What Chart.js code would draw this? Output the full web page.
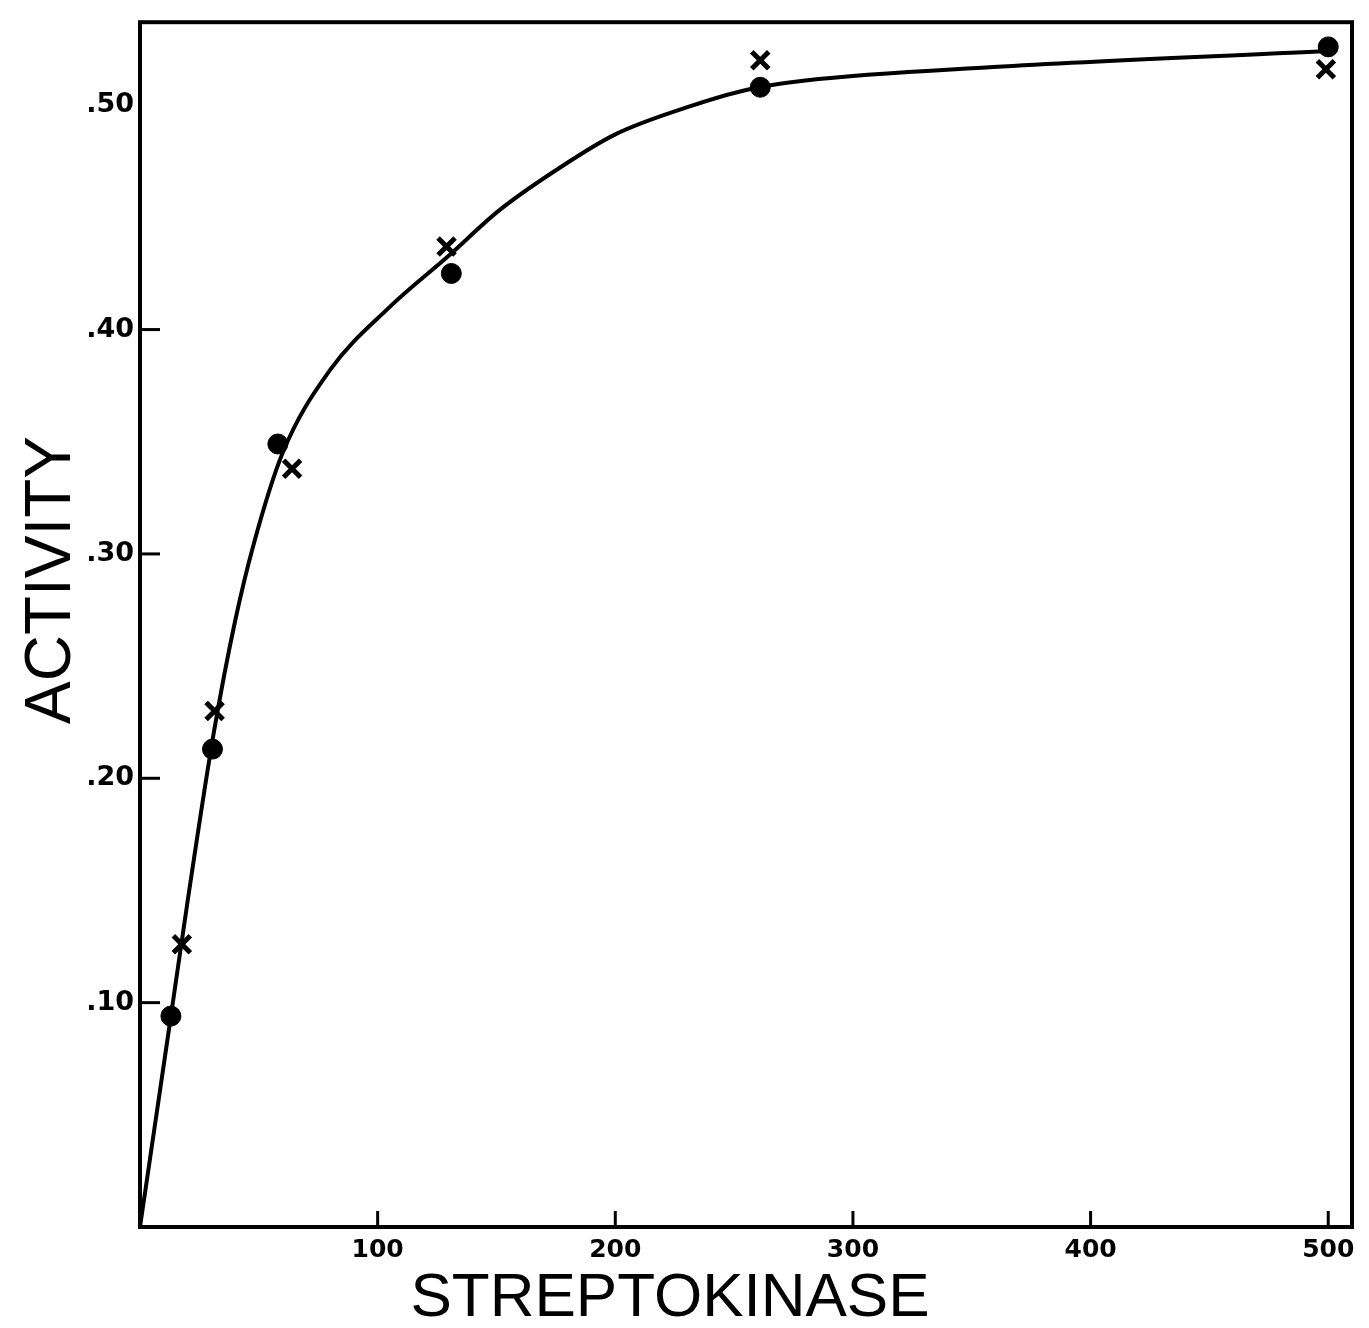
<!DOCTYPE html>
<html lang="en">

<head>
    <meta charset="UTF-8">
    <title>Activity vs Streptokinase</title>
    <script src="https://cdn.jsdelivr.net/npm/chart.js"></script>
    <style>
        html, body { margin: 0; padding: 0; background: #fff; }
        #wrap { width: 1369px; height: 1328px; }
    </style>
</head>

<body>
    <div id="wrap"><canvas id="grafica"></canvas></div>

    <script>
        // Datos
        var dotX = [13, 30.5, 58, 131, 261, 500];
        var dotY = [0.094, 0.213, 0.349, 0.425, 0.508, 0.526];
        var crossX = [17.6, 31.4, 64, 129, 261, 499];
        var crossY = [0.126, 0.230, 0.338, 0.437, 0.520, 0.516];
        var curveX = [0, 13, 20, 31, 40, 48, 60, 80, 105, 130, 151, 175, 200, 230, 256, 280, 359, 498];
        var curveY = [0, 0.094, 0.145, 0.22, 0.27, 0.305, 0.345, 0.382, 0.410, 0.433, 0.453, 0.471, 0.487, 0.499, 0.507, 0.511, 0.517, 0.524];
        var xTicks = [100, 200, 300, 400, 500];
        var xTickLabels = ['100', '200', '300', '400', '500'];
        var yTicks = [0.1, 0.2, 0.3, 0.4, 0.5];
        var yTickLabels = ['.10', '.20', '.30', '.40', '.50'];
        var xTitle = 'STREPTOKINASE';
        var yTitle = 'ACTIVITY';

        function pares(xs, ys) {
            return xs.map(function (x, i) { return { x: x, y: ys[i] }; });
        }

        // Caja, marcas interiores y titulos dibujados a mano
        var marco = {
            id: 'marco',
            afterDraw: function (chart) {
                var ctx = chart.ctx, a = chart.chartArea;
                var sx = chart.scales.x, sy = chart.scales.y;
                ctx.save();
                ctx.strokeStyle = '#000';
                ctx.lineWidth = 4;
                ctx.strokeRect(a.left, a.top, a.right - a.left, a.bottom - a.top);
                ctx.lineWidth = 3;
                yTicks.forEach(function (v) {
                    if (v >= 0.5) return;
                    var py = sy.getPixelForValue(v);
                    ctx.beginPath(); ctx.moveTo(a.left, py); ctx.lineTo(a.left + 20, py); ctx.stroke();
                });
                xTicks.forEach(function (v) {
                    var px = sx.getPixelForValue(v);
                    ctx.beginPath(); ctx.moveTo(px, a.bottom); ctx.lineTo(px, a.bottom - 16); ctx.stroke();
                });
                ctx.fillStyle = '#000';
                ctx.font = '62px "Liberation Sans", Arial, sans-serif';
                ctx.textAlign = 'center';
                ctx.textBaseline = 'alphabetic';
                ctx.fillText(xTitle, 670, 1316);
                ctx.translate(70, 580);
                ctx.rotate(-Math.PI / 2);
                ctx.font = '64px "Liberation Sans", Arial, sans-serif';
                ctx.fillText(yTitle, 0, 0);
                ctx.restore();
            }
        };

        var ctx = document.getElementById('grafica').getContext('2d');
        var chart = new Chart(ctx, {
            type: 'scatter',
            data: {
                datasets: [{
                    label: 'curva',
                    data: pares(curveX, curveY),
                    showLine: true,
                    borderColor: '#000',
                    borderWidth: 4,
                    pointRadius: 0,
                    cubicInterpolationMode: 'monotone'
                }, {
                    label: 'puntos',
                    data: pares(dotX, dotY),
                    pointStyle: 'circle',
                    pointRadius: 10,
                    backgroundColor: '#000',
                    borderColor: '#000'
                }, {
                    label: 'cruces',
                    data: pares(crossX, crossY),
                    pointStyle: 'crossRot',
                    pointRadius: 12,
                    borderWidth: 5,
                    borderColor: '#000'
                }]
            },
            plugins: [marco],
            options: {
                responsive: true,
                maintainAspectRatio: false,
                animation: false,
                layout: { padding: { top: 17, right: 6, left: 0, bottom: 0 } },
                plugins: {
                    legend: { display: false },
                    tooltip: { enabled: false }
                },
                scales: {
                    x: {
                        type: 'linear',
                        min: 0,
                        max: 510,
                        grid: { display: false, drawTicks: false },
                        border: { display: false },
                        afterBuildTicks: function (s) { s.ticks = xTicks.map(function (v) { return { value: v }; }); },
                        afterFit: function (s) { s.height = 101; },
                        ticks: {
                            color: '#000',
                            padding: 8,
                            maxRotation: 0,
                            font: { family: 'DejaVu Sans', size: 25, weight: 'bold' },
                            callback: function (v) { return xTickLabels[xTicks.indexOf(v)]; }
                        }
                    },
                    y: {
                        type: 'linear',
                        min: 0,
                        max: 0.537,
                        grid: { display: false, drawTicks: false },
                        border: { display: false },
                        afterBuildTicks: function (s) { s.ticks = yTicks.map(function (v) { return { value: v }; }); },
                        afterFit: function (s) { s.width = 140; },
                        ticks: {
                            color: '#000',
                            padding: 6,
                            font: { family: 'DejaVu Sans', size: 27, weight: 'bold' },
                            callback: function (v) { return yTickLabels[yTicks.indexOf(v)]; }
                        }
                    }
                }
            }
        });
    </script>
</body>

</html>
